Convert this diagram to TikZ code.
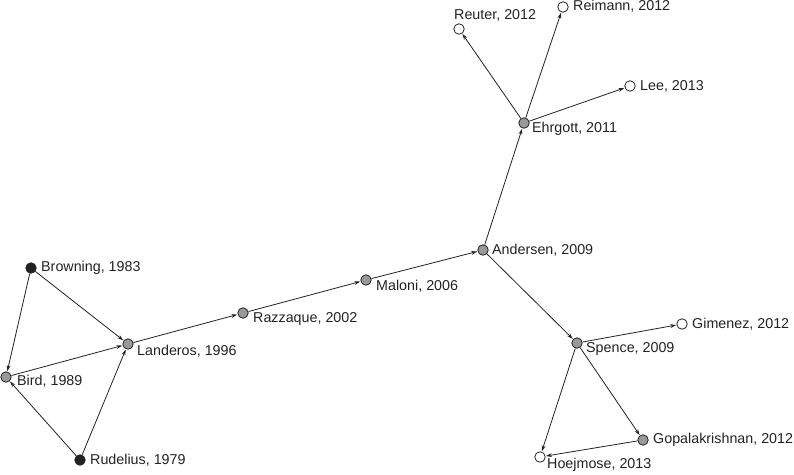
\documentclass[tikz,border=0pt]{standalone}
\usepackage{fontspec}
\setmainfont{Liberation Sans}
\usetikzlibrary{arrows.meta}
\definecolor{ink}{HTML}{222222}
\definecolor{grayfill}{HTML}{999999}
\tikzset{
  vtx/.style={circle,draw=ink,line width=0.8pt,minimum size=10.5pt,inner sep=0pt},
  gv/.style={vtx,fill=grayfill},
  bv/.style={vtx,fill=ink},
  wv/.style={vtx,fill=white},
  lbl/.style={font=\fontsize{14.3}{16}\selectfont,text=ink,inner sep=0pt,anchor=west},
  edge/.style={draw=ink,line width=0.8pt,-{Stealth[length=6pt,width=3.8pt]},shorten >=0.3pt}
}
\begin{document}
\begin{tikzpicture}[x=1pt,y=-1pt]
\useasboundingbox (0,0) rectangle (794,474);
\node[bv] (browning) at (31,268) {};
\node[gv] (bird) at (6,377) {};
\node[bv] (rudelius) at (80,460) {};
\node[gv] (landeros) at (128,344) {};
\node[gv] (razzaque) at (243,313) {};
\node[gv] (maloni) at (366,280) {};
\node[gv] (andersen) at (483,250) {};
\node[gv] (ehrgott) at (524,123) {};
\node[wv] (reuter) at (459,29) {};
\node[wv] (reimann) at (563,7) {};
\node[wv] (lee) at (630,86) {};
\node[gv] (spence) at (577,343) {};
\node[wv] (gimenez) at (682,324) {};
\node[gv] (gopal) at (643,440) {};
\node[wv] (hoejmose) at (540,457) {};

\node[lbl] (lbrowning) at (41,268) {Browning, 1983};
\node[lbl] (lbird) at (17,381) {Bird, 1989};
\node[lbl] (lrudelius) at (90,460) {Rudelius, 1979};
\node[lbl] (llanderos) at (137,351) {Landeros, 1996};
\node[lbl] (lrazzaque) at (253,319) {Razzaque, 2002};
\node[lbl] (lmaloni) at (376,286) {Maloni, 2006};
\node[lbl] (landersen) at (492,250) {Andersen, 2009};
\node[lbl] (lehrgott) at (532,129) {Ehrgott, 2011};
\node[lbl] (lreuter) at (454,15) {Reuter, 2012};
\node[lbl] (lreimann) at (573,6) {Reimann, 2012};
\node[lbl] (llee) at (640,86) {Lee, 2013};
\node[lbl] (lspence) at (586,349) {Spence, 2009};
\node[lbl] (lgimenez) at (692,324) {Gimenez, 2012};
\node[lbl] (lgopal) at (653,440) {Gopalakrishnan, 2012};
\node[lbl] (lhoejmose) at (547,465) {Hoejmose, 2013};

\draw[edge] (browning) -- (bird);
\draw[edge] (browning) -- (landeros);
\draw[edge] (bird) -- (landeros);
\draw[edge] (rudelius) -- (bird);
\draw[edge] (rudelius) -- (landeros);
\draw[edge] (landeros) -- (razzaque);
\draw[edge] (razzaque) -- (maloni);
\draw[edge] (maloni) -- (andersen);
\draw[edge] (andersen) -- (ehrgott);
\draw[edge] (ehrgott) -- (reuter);
\draw[edge] (ehrgott) -- (reimann);
\draw[edge] (ehrgott) -- (lee);
\draw[edge] (andersen) -- (spence);
\draw[edge] (spence) -- (gimenez);
\draw[edge] (spence) -- (gopal);
\draw[edge] (spence) -- (hoejmose);
\draw[edge] (gopal) -- (hoejmose);
\end{tikzpicture}
\end{document}
